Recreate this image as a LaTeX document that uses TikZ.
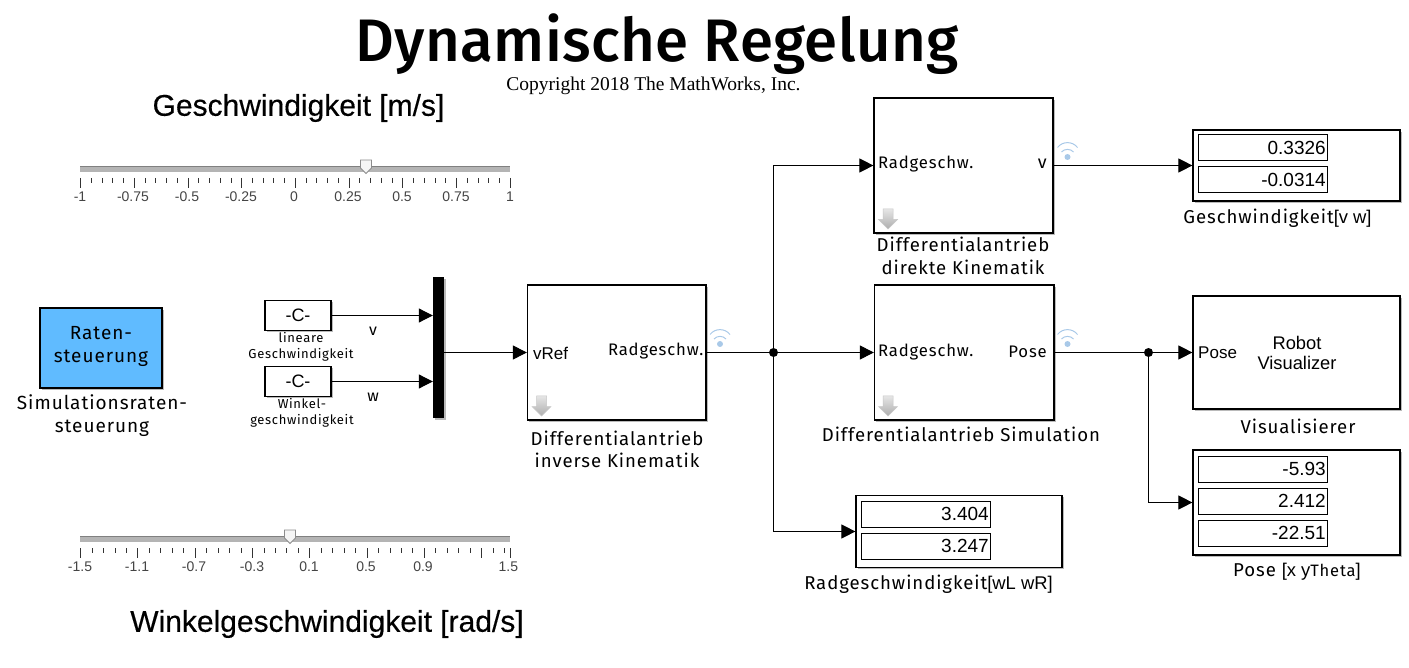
\documentclass[tikz,border=0pt]{standalone}
\usepackage{fontspec}
\setmainfont{Liberation Sans}
\newfontfamily\din[LetterSpace=5]{Fira Sans}
\newfontfamily\dintitle[LetterSpace=0.6]{Fira Sans Medium}
\newfontfamily\timesf{Liberation Serif}
\newfontfamily\headf[FakeBold=0.35]{Liberation Sans}
\usetikzlibrary{arrows.meta,shadows}
\definecolor{rateblue}{HTML}{60BBFF}
\definecolor{wifiblue}{HTML}{A9C9E8}
\definecolor{trackgray}{HTML}{B4B4B4}
\definecolor{ticktext}{HTML}{444444}
\newcommand{\arialpart}[1]{{\fontspec{Liberation Sans}\fontsize{18.4}{18.4}\selectfont #1}}
\tikzset{
  x=1pt,y=-1pt,
  wire/.style={line width=1pt,draw=black},
  sig/.style={wire,-{Triangle[length=14pt,width=14pt]},shorten >=0pt},
  blockbox/.style={draw=black,line width=1.2pt,fill=white,inner sep=0pt,
    drop shadow={shadow xshift=1.6pt,shadow yshift=-1.6pt,fill=black!45,opacity=.6}},
  valbox/.style={draw=black,line width=1pt,fill=white,inner sep=0pt,minimum width=129pt,minimum height=26pt,
    text width=126.5pt,align=right,font=\fontsize{19}{19}\selectfont},
  junct/.style={circle,fill=black,inner sep=0pt,minimum size=9pt},
  lab/.style={inner sep=0pt,align=center,font=\din\fontsize{18.6}{22.5}\selectfont},
  smalllab/.style={inner sep=0pt,align=center,font=\din\fontsize{13}{16}\selectfont},
  portlab/.style={inner sep=0pt,font=\din\fontsize{16.7}{16.7}\selectfont},
  head/.style={inner sep=0pt,font=\headf\fontsize{30}{30}\selectfont},
  ticklab/.style={inner sep=0pt,text=ticktext,font=\fontsize{14}{14}\selectfont},
  tickm/.style={line width=.7pt,draw=black!80},
  wifi/.pic={
    \fill[wifiblue] (0,0) circle (3pt);
    \draw[wifiblue,line width=1pt] (-6,-5) .. controls (-3,-8.5) and (3,-8.5) .. (6,-5);
    \draw[wifiblue,line width=1pt] (-10,-9.5) .. controls (-5,-16) and (5,-16) .. (10,-9.5);
  },
  downarrow/.pic={
    \path[top color=black!10,bottom color=black!32,draw=black!22,line width=.5pt] (-5,0) -- (5,0) -- (5,10.5) -- (9.5,10.5) -- (0,20) -- (-9.5,10.5) -- (-5,10.5) -- cycle;
  },
  thumb/.pic={
    \filldraw[fill=black!4,draw=black!45,line width=.8pt] (-5.5,0) -- (5.5,0) -- (5.5,8) -- (0,13.5) -- (-5.5,8) -- cycle;
  },
}
\begin{document}
\begin{tikzpicture}
\useasboundingbox (0,0) rectangle (1409,668);

% title and headings
\node[inner sep=0pt,font=\dintitle\fontsize{60}{60}\selectfont] (title) at (657,44) {Dynamische Regelung};
\node[inner sep=0pt,font=\timesf\fontsize{19.5}{19.5}\selectfont] (copy) at (653.5,85.5) {Copyright 2018 The MathWorks, Inc.};
\node[head] (h1) at (298.5,108) {Geschwindigkeit [m/s]};
\node[head] (h2) at (327,624) {Winkelgeschwindigkeit [rad/s]};

% slider 1
\fill[trackgray] (80,166) rectangle (510,172);
\draw[black!50,line width=.7pt] (80,166.3) -- (510,166.3);
\foreach \i in {0,...,40}{
  \pgfmathsetmacro{\xx}{80.5+\i*10.74}
  \pgfmathtruncatemacro{\mm}{mod(\i,5)==0 ? 1 : 0}
  \ifnum\mm=1 \draw[tickm] (\xx,178) -- (\xx,188); \else \draw[tickm] (\xx,178) -- (\xx,183); \fi
}
\foreach \xx/\tt in {80/-1,133/-0.75,187/-0.5,241/-0.25,294/0,348/0.25,402/0.5,456/0.75,510/1}
  \node[ticklab] at (\xx,197) {\tt};
\pic at (366,160) {thumb};

% slider 2
\fill[trackgray] (80,536) rectangle (510,542);
\draw[black!50,line width=.7pt] (80,536.3) -- (510,536.3);
\foreach \i in {0,...,37}{
  \pgfmathsetmacro{\xx}{80.5+\i*11.46}
  \pgfmathtruncatemacro{\mm}{mod(\i,5)==0 ? 1 : 0}
  \ifnum\mm=1 \draw[tickm] (\xx,548) -- (\xx,558); \else \draw[tickm] (\xx,548) -- (\xx,553); \fi
}
\draw[tickm] (510.5,548) -- (510.5,558);
\foreach \xx/\tt in {80/-1.5,137/-1.1,194/-0.7,252/-0.3,309/0.1,366/0.5,423/0.9}
  \node[ticklab] at (\xx,567) {\tt};
\node[ticklab,anchor=west] at (498.5,567) {1.5};
\fill[white] (518,558) rectangle (526,575);
\pic at (290,530) {thumb};

% rate block
\node[blockbox,fill=rateblue,minimum width=122pt,minimum height=80pt] (rate) at (101,348) {};
\node[inner sep=0pt,align=center,font=\din\fontsize{19}{23}\selectfont] (ratetxt) at (101,346) {Raten-\\steuerung};
\node[lab,font=\din\fontsize{19}{23}\selectfont] (ratelab) at (102,416) {Simulationsraten-\\steuerung};

% constants
\node[blockbox,minimum width=66pt,minimum height=30pt,font=\fontsize{18}{18}\selectfont] (c1) at (298,315.5) {-C-};
\node[blockbox,minimum width=66pt,minimum height=30pt,font=\fontsize{18}{18}\selectfont] (c2) at (298,381.5) {-C-};
\node[smalllab] (c1lab) at (301,347) {lineare\\Geschwindigkeit};
\node[smalllab] (c2lab) at (302,413) {Winkel-\\geschwindigkeit};
\node[portlab,font=\din\fontsize{16}{16}\selectfont] (vl) at (373,331) {v};
\node[portlab,font=\din\fontsize{16}{16}\selectfont] (wl) at (373,397) {w};

% mux
\node[fill=black,inner sep=0pt,minimum width=11pt,minimum height=141pt,
  drop shadow={shadow xshift=1.6pt,shadow yshift=-1.6pt,fill=black!45,opacity=.6}] (mux) at (438.5,347.5) {};

% subsystems
\node[blockbox,minimum width=178.5pt,minimum height=135pt] (inv) at (616.7,352.5) {};
\node[blockbox,minimum width=179pt,minimum height=135pt] (dir) at (963.5,165.5) {};
\node[blockbox,minimum width=179.5pt,minimum height=135pt] (sim) at (964.2,352.5) {};
\node[portlab,font=\fontsize{17}{17}\selectfont,anchor=west] (vref) at (533,353) {vRef};
\node[portlab,anchor=east] (rad1) at (703.5,351) {Radgeschw.};
\node[portlab,anchor=west] (rad2) at (878,164) {Radgeschw.};
\node[portlab,anchor=east,font=\din\fontsize{18}{18}\selectfont] (vout) at (1047,164) {v};
\node[portlab,anchor=west] (rad3) at (878,352) {Radgeschw.};
\node[portlab,anchor=east] (poseout) at (1047,352) {Pose};
\pic at (541.5,396) {downarrow};
\pic at (888,209) {downarrow};
\pic at (888,396) {downarrow};
\node[lab] (invlab) at (617,449.5) {Differentialantrieb\\inverse Kinematik};
\node[lab] (dirlab) at (963,256) {Differentialantrieb\\direkte Kinematik};
\node[lab] (simlab) at (961,434) {Differentialantrieb Simulation};

% display v w
\node[blockbox,minimum width=207pt,minimum height=71pt] (dv) at (1296.5,165.5) {};
\node[valbox] (dv1) at (1262.5,148) {0.3326};
\node[valbox] (dv2) at (1262.5,180) {-0.0314};
\node[lab] (dvlab) at (1277.5,218) {Geschwindigkeit\arialpart{[v w]}};

% visualizer
\node[blockbox,minimum width=207pt,minimum height=113pt] (vis) at (1296.5,352.5) {};
\node[portlab,font=\fontsize{17}{17}\selectfont,anchor=west] (vpose) at (1198,353) {Pose};
\node[inner sep=0pt,align=center,font=\fontsize{18.3}{20}\selectfont] (vtxt) at (1297,353) {Robot\\Visualizer};
\node[lab] (vislab) at (1298,426) {Visualisierer};

% pose display
\node[blockbox,minimum width=207pt,minimum height=105pt] (dp) at (1296.5,502.5) {};
\node[valbox] (dp1) at (1262.5,469) {-5.93};
\node[valbox] (dp2) at (1262.5,501) {2.412};
\node[valbox] (dp3) at (1262.5,533) {-22.51};
\node[lab] (dplab) at (1297,572) {Pose \arialpart{[x y}{\din\fontsize{16.5}{16.5}\selectfont Theta}\arialpart{]}};

% wheel speed display
\node[blockbox,minimum width=206pt,minimum height=72pt] (dr) at (959,531.5) {};
\node[valbox] (dr1) at (925.5,514) {3.404};
\node[valbox] (dr2) at (925.5,546) {3.247};
\node[lab] (drlab) at (928.5,584) {Radgeschwindigkeit\arialpart{[wL wR]}};

% junctions
\node[junct] (j1) at (773.5,352.5) {};
\node[junct] (j2) at (1148.5,352.5) {};

% wires
\draw[sig] (c1.east) -- (c1.east -| mux.west);
\draw[sig] (c2.east) -- (c2.east -| mux.west);
\draw[sig] (mux.east |- inv.west) -- (inv.west);
\draw[wire] (inv.east) -- (j1);
\draw[sig] (j1) -- (sim.west);
\draw[sig] (j1) |- (dir.west);
\draw[sig] (j1) |- (dr.west);
\draw[sig] (dir.east) -- (dv.west);
\draw[wire] (sim.east) -- (j2);
\draw[sig] (j2) -- (vis.west);
\draw[sig] (j2) |- (dp.west);

% signal logging icons
\pic at (720,344) {wifi};
\pic at (1067.5,344) {wifi};
\pic at (1067.5,157) {wifi};
\end{tikzpicture}
\end{document}
